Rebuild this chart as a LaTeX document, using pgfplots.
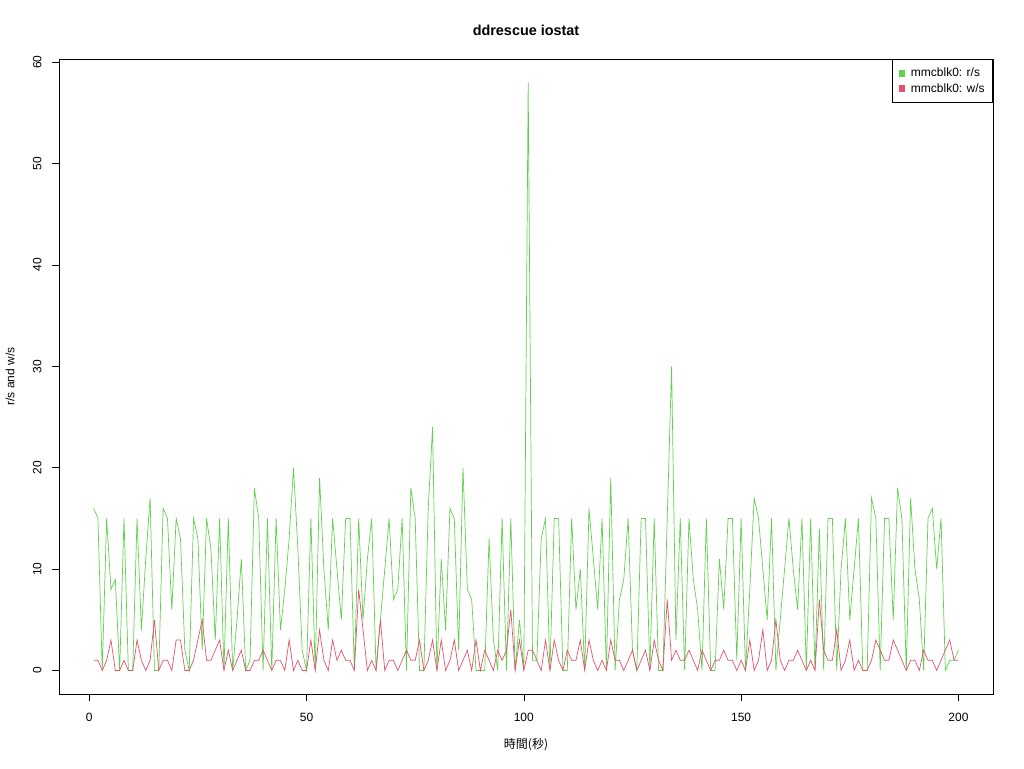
\documentclass[border=0pt]{standalone}
\usepackage{fontspec}
\setmainfont{Liberation Sans}
\newfontfamily\cjk{Noto Sans CJK JP}
\usepackage{pgfplots}
\usepackage{pgfplotstable}
\pgfplotsset{compat=1.18}

\definecolor{rgreen}{HTML}{61D04F}
\definecolor{rred}{HTML}{DF536B}

% t = seconds, r = reads/s, w = writes/s
\pgfplotstableread{
t r w
1 16 1
2 15 1
3 0 0
4 15 1
5 8 3
6 9 0
7 0 0
8 15 1
9 0 0
10 0 0
11 15 3
12 4 1
13 11 0
14 17 1
15 0 5
16 0 0
17 16 1
18 15 1
19 6 0
20 15 3
21 13 3
22 2 0
23 0 0
24 15 1
25 13 3
26 2 5
27 15 1
28 12 1
29 3 2
30 15 3
31 0 0
32 15 2
33 0 0
34 5 1
35 11 2
36 0 0
37 1 0
38 18 1
39 15 1
40 0 2
41 15 1
42 0 0
43 15 1
44 4 1
45 8 0
46 13 3
47 20 0
48 12 1
49 2 0
50 0 0
51 15 3
52 0 0
53 19 4
54 10 1
55 4 0
56 15 3
57 10 1
58 5 2
59 15 1
60 15 1
61 0 0
62 15 8
63 5 4
64 11 0
65 15 1
66 0 0
67 5 5
68 10 0
69 15 1
70 7 1
71 8 0
72 15 1
73 0 2
74 18 1
75 15 1
76 0 3
77 0 0
78 16 1
79 24 3
80 0 0
81 11 3
82 4 0
83 16 1
84 15 3
85 2 0
86 20 1
87 8 2
88 7 0
89 0 3
90 0 0
91 0 2
92 13 1
93 3 0
94 0 2
95 15 1
96 0 2
97 15 6
98 0 0
99 5 3
100 0 0
101 58 2
102 1 2
103 1 1
104 13 0
105 15 3
106 0 0
107 15 3
108 15 1
109 0 0
110 0 2
111 15 1
112 6 1
113 10 3
114 0 0
115 16 3
116 11 1
117 6 0
118 15 1
119 0 0
120 19 3
121 0 1
122 7 1
123 9 0
124 15 1
125 2 2
126 0 0
127 15 1
128 15 2
129 0 0
130 15 3
131 0 1
132 0 0
133 15 7
134 30 1
135 3 2
136 15 1
137 0 1
138 15 2
139 9 1
140 6 0
141 0 2
142 15 1
143 0 0
144 0 1
145 11 1
146 6 2
147 15 1
148 15 1
149 1 0
150 15 1
151 0 0
152 8 3
153 17 0
154 15 1
155 10 4
156 5 0
157 15 1
158 0 5
159 5 1
160 10 0
161 15 1
162 10 1
163 6 2
164 15 1
165 0 0
166 15 1
167 0 0
168 14 7
169 0 2
170 15 1
171 15 1
172 0 4
173 10 0
174 15 1
175 5 3
176 10 0
177 15 1
178 0 0
179 0 0
180 17 1
181 15 3
182 0 2
183 15 1
184 15 1
185 5 3
186 18 2
187 15 1
188 0 0
189 17 1
190 10 1
191 7 0
192 0 2
193 15 1
194 16 1
195 10 0
196 15 1
197 0 2
198 1 3
199 1 1
200 2 1
}\iostat

\begin{document}
\begin{tikzpicture}[x=1pt,y=1pt]
\useasboundingbox (0,0) rectangle (1024,768);
\begin{axis}[
  at={(59pt,74pt)}, anchor=south west,
  scale only axis, width=934pt, height=635pt,
  xmin=-6.96, xmax=207.96, ymin=-2.32, ymax=60.32,
  xtick={0,50,100,150,200}, ytick={0,10,...,60},
  xtick pos=left, ytick pos=left,
  tick align=outside, major tick length=7pt,
  tick style={black, line width=0.6pt},
  axis line style={black, line width=0.6pt},
  /pgf/number format/assume math mode=true,
  ticklabel style={font=\fontsize{12}{14}\selectfont},
  xticklabel style={yshift=-9pt},
  yticklabel style={rotate=90, anchor=south, yshift=7pt},
  title={ddrescue iostat},
  title style={font=\fontsize{14.4}{16}\selectfont\bfseries, at={(axis description cs:0.5,1)}, anchor=center, yshift=23pt},
  xlabel={\cjk 時間(秒)},
  xlabel style={font=\fontsize{12}{14}\selectfont, at={(axis description cs:0.5,0)}, anchor=center, yshift=-51pt},
  ylabel={r/s and w/s},
  ylabel style={font=\fontsize{12}{14}\selectfont, at={(axis description cs:0,0.5)}, anchor=center, yshift=49pt},
  legend style={at={(1,1)}, anchor=north east, draw=black, line width=0.6pt, fill=white,
    font=\fontsize{12}{14}\selectfont, inner xsep=6pt, inner ysep=7pt, row sep=1pt},
  legend cell align=left,
  legend image code/.code={\fill (1pt,-2.8pt) rectangle (6.6pt,2.8pt); \path[draw=none, fill=none] (0pt,0pt) -- (11pt,0pt);},
]
\addplot[color=rgreen, line width=0.7pt] table[x=t, y=r] {\iostat};
\addplot[color=rred, line width=0.7pt] table[x=t, y=w] {\iostat};
\legend{mmcblk0: r/s, mmcblk0: w/s}
\end{axis}
\end{tikzpicture}
\end{document}
